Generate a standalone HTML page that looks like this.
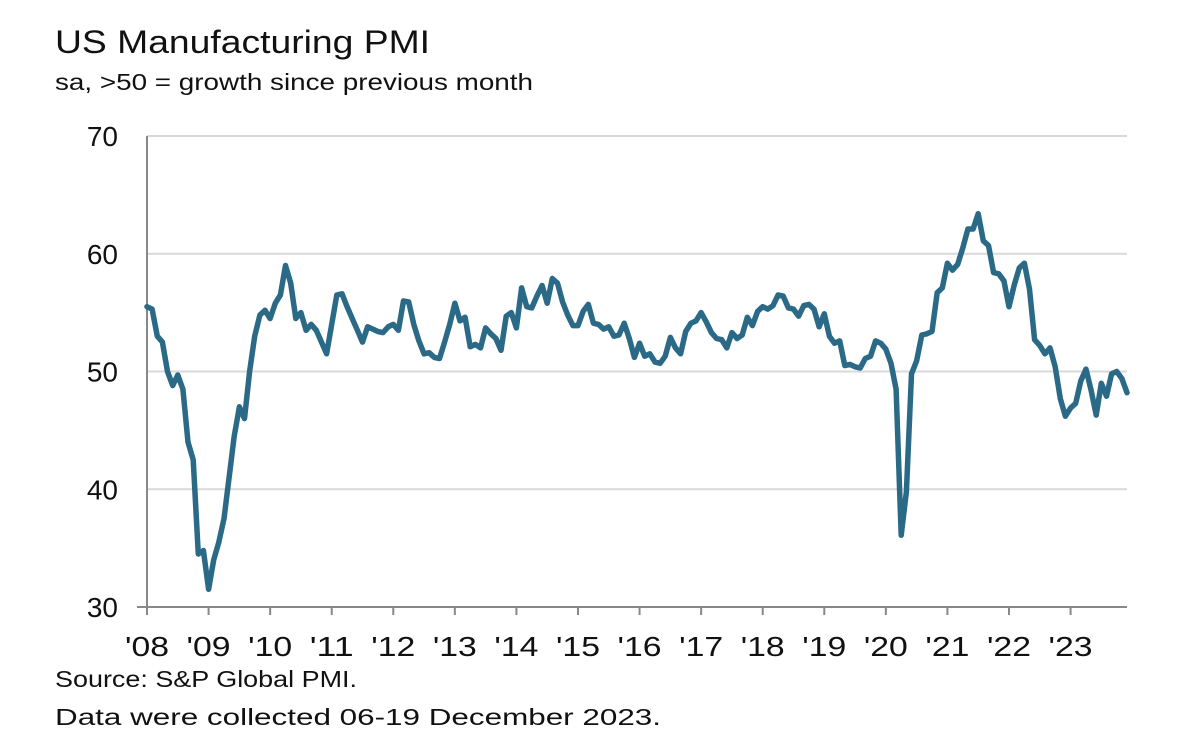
<!DOCTYPE html>
<html><head><meta charset="utf-8"><style>
body{margin:0;background:#fff;}
svg{display:block;font-family:"Liberation Sans",sans-serif;}
</style></head><body>
<svg id="chart" width="1200" height="735" viewBox="0 0 1200 735">
<text x="55" y="53" font-size="32" fill="#111" textLength="375" lengthAdjust="spacingAndGlyphs">US Manufacturing PMI</text>
<text x="55" y="90" font-size="23" fill="#111" textLength="478" lengthAdjust="spacingAndGlyphs">sa, &gt;50 = growth since previous month</text>
<text x="55" y="687" font-size="23" fill="#111" textLength="302" lengthAdjust="spacingAndGlyphs">Source: S&amp;P Global PMI.</text>
<text x="55" y="725" font-size="23" fill="#111" textLength="606" lengthAdjust="spacingAndGlyphs">Data were collected 06-19 December 2023.</text>
<g id="grid"></g><g id="axes"></g><g id="series"></g>
</svg>
<script>
const years = ["'08","'09","'10","'11","'12","'13","'14","'15","'16","'17","'18","'19","'20","'21","'22","'23"];
const yTicks = [30,40,50,60,70];
const pmi = [
55.5,55.3,53,52.5,50,48.8,49.7,48.5,44,42.5,34.5,34.8,
31.5,34,35.5,37.5,41,44.5,47,46,50,53,54.8,55.2,
54.5,55.8,56.5,59,57.5,54.5,55,53.5,54,53.5,52.5,51.5,
54,56.5,56.6,55.5,54.5,53.5,52.5,53.8,53.6,53.4,53.3,53.8,
54,53.5,56,55.9,54,52.6,51.5,51.6,51.2,51.1,52.5,54,
55.8,54.3,54.6,52.1,52.3,52.0,53.7,53.2,52.8,51.8,54.7,55.0,
53.7,57.1,55.5,55.4,56.4,57.3,55.8,57.9,57.5,55.9,54.8,53.9,
53.9,55.1,55.7,54.1,54.0,53.6,53.8,53.0,53.1,54.1,52.8,51.2,
52.4,51.3,51.5,50.8,50.7,51.3,52.9,52.0,51.5,53.4,54.1,54.3,
55.0,54.2,53.3,52.8,52.7,52.0,53.3,52.8,53.1,54.6,53.9,55.1,
55.5,55.3,55.6,56.5,56.4,55.4,55.3,54.7,55.6,55.7,55.3,53.8,
54.9,53.0,52.4,52.6,50.5,50.6,50.4,50.3,51.1,51.3,52.6,52.4,
51.9,50.7,48.5,36.1,39.8,49.8,50.9,53.1,53.2,53.4,56.7,57.1,
59.2,58.6,59.1,60.5,62.1,62.1,63.4,61.1,60.7,58.4,58.3,57.7,
55.5,57.3,58.8,59.2,57.0,52.7,52.2,51.5,52.0,50.4,47.7,46.2,
46.9,47.3,49.2,50.2,48.4,46.3,49.0,47.9,49.8,50.0,49.4,48.2];
const NS="http://www.w3.org/2000/svg";
const L=147,R=1127,T=136,B=607,YMIN=30,YMAX=70;
const n=pmi.length;
function x(i){return L+(R-L)*i/(n-1);}
function y(v){return B-(B-T)*(v-YMIN)/(YMAX-YMIN);}
function mk(tag,attrs,parent){const e=document.createElementNS(NS,tag);for(const k in attrs)e.setAttribute(k,attrs[k]);parent.appendChild(e);return e;}
const grid=document.getElementById('grid'),axes=document.getElementById('axes'),ser=document.getElementById('series');
yTicks.forEach(t=>{
  if(t>YMIN){const g=mk('line',{x1:L,x2:R,y1:y(t),y2:y(t),stroke:'#d9d9d9','stroke-width':2},grid);
  
  }
  const lb=mk('text',{x:118,y:y(t)+10,'font-size':28,'text-anchor':'end',fill:'#111'},axes);
  lb.textContent=t;
  
  
});
const ya=mk('line',{x1:L,x2:L,y1:T,y2:B,stroke:'#888','stroke-width':2},axes);


const xa=mk('line',{x1:L-10,x2:R,y1:B,y2:B,stroke:'#888','stroke-width':2},axes);


years.forEach((yr,k)=>{
  const xx=x(k*12);
  const tk=mk('line',{x1:xx,x2:xx,y1:B,y2:B+8,stroke:'#888','stroke-width':2},axes);
  
  
  const lb=mk('text',{x:xx-22,y:656,'font-size':28,textLength:44,lengthAdjust:'spacingAndGlyphs',fill:'#111'},axes);
  lb.textContent=yr;
  
  
});
const d=pmi.map((v,i)=>(i?'L':'M')+x(i).toFixed(1)+','+y(v).toFixed(1)).join('');
const p=mk('path',{d:d,fill:'none',stroke:'#2b6a87','stroke-width':5.5,'stroke-linejoin':'round','stroke-linecap':'round'},ser);


</script>
</body></html>
